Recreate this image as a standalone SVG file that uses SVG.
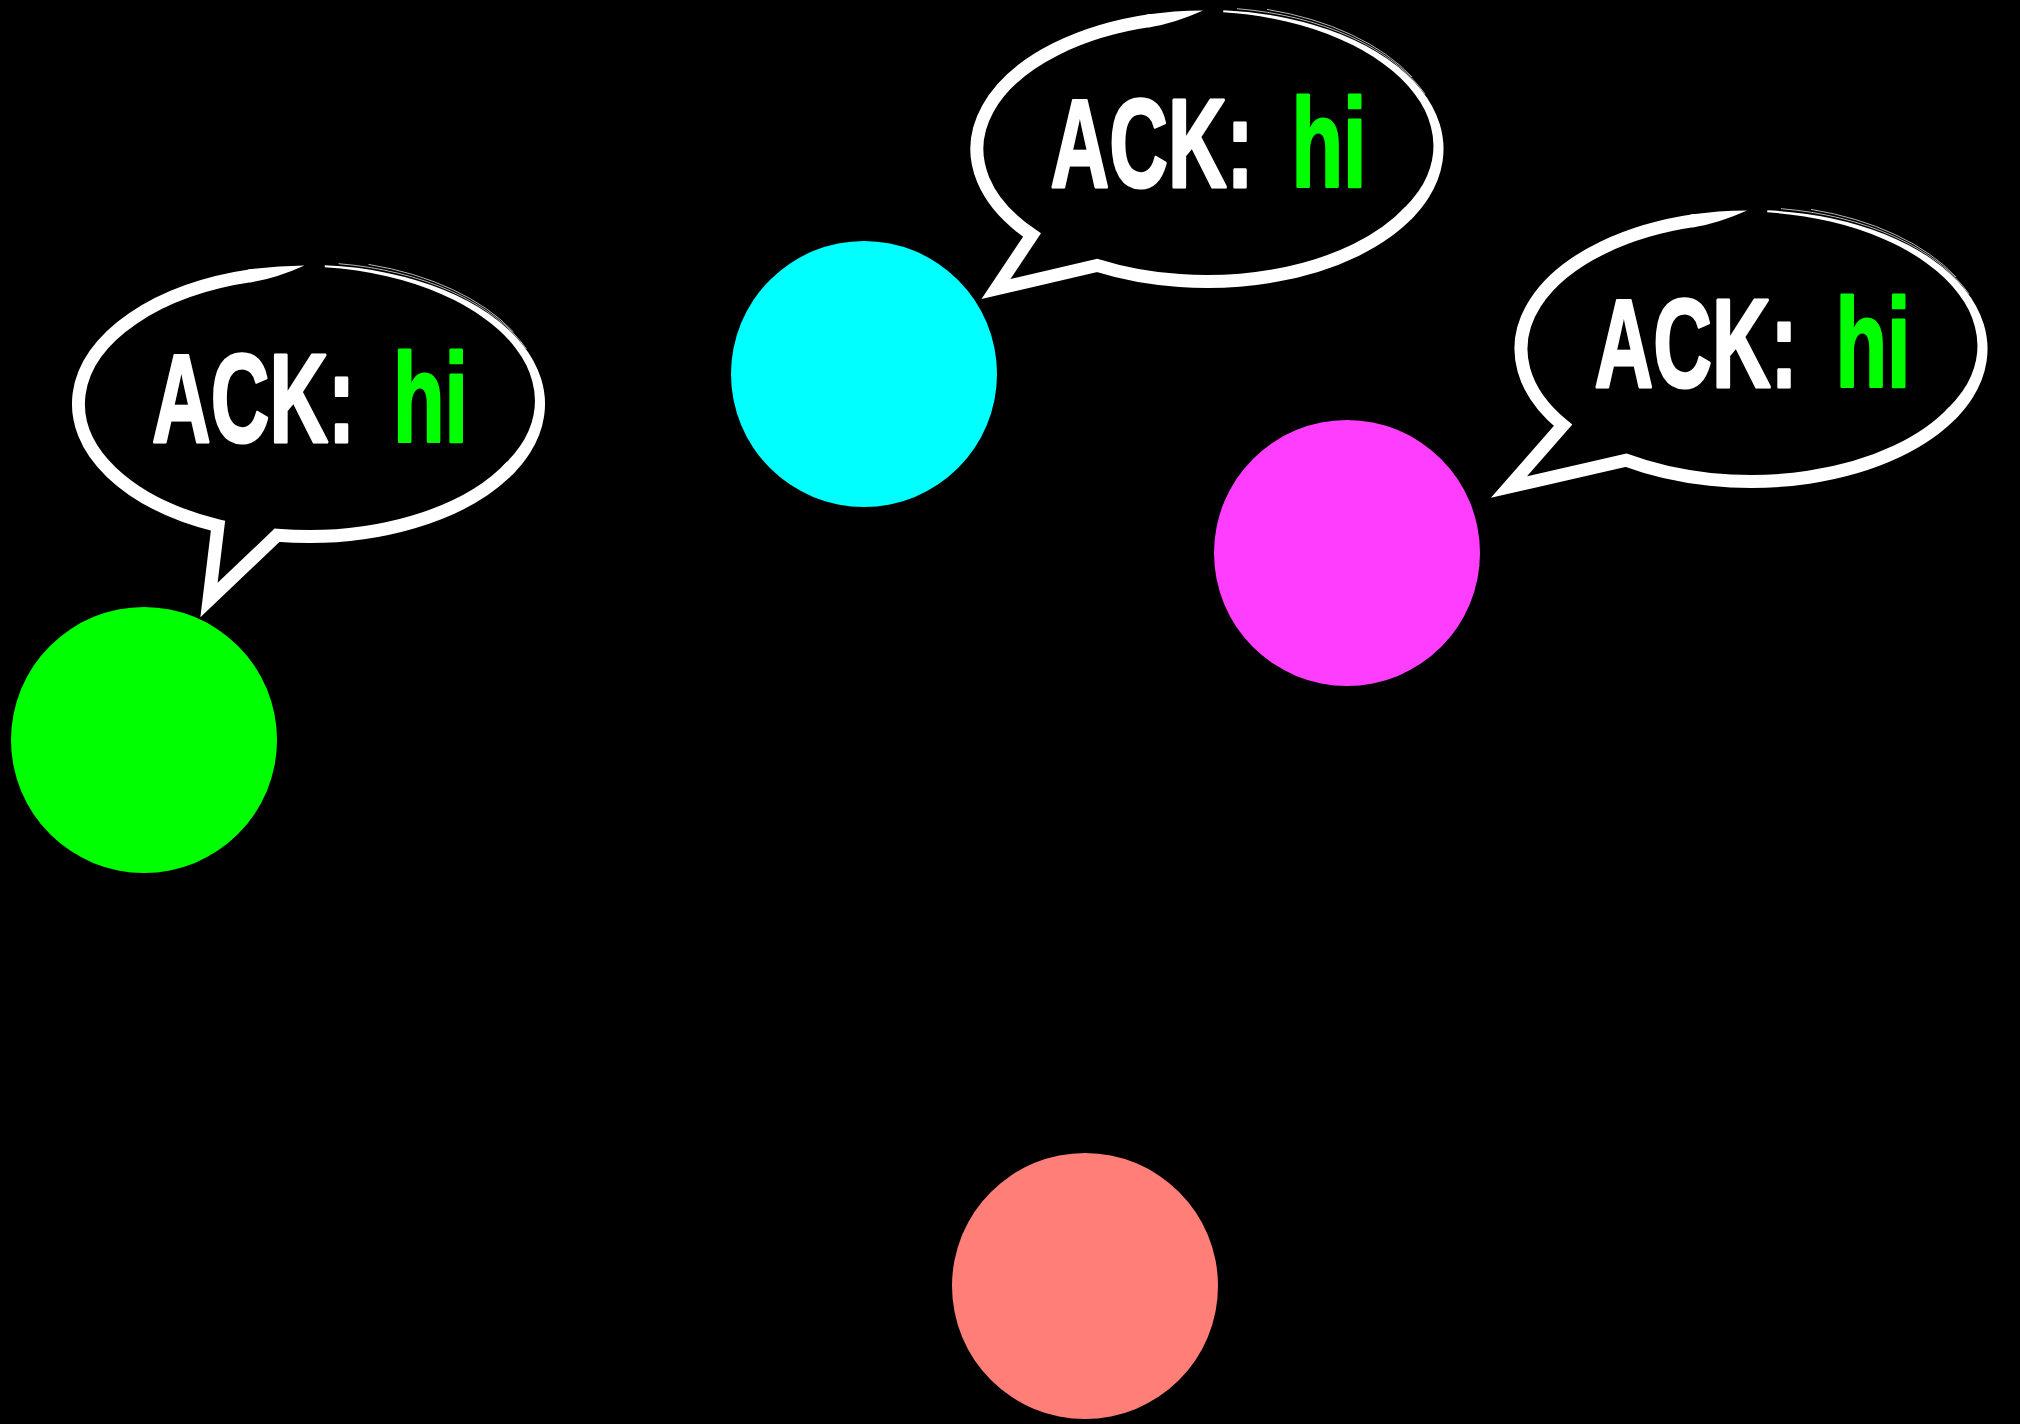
<svg xmlns="http://www.w3.org/2000/svg" xmlns:xlink="http://www.w3.org/1999/xlink" width="2020" height="1424" viewBox="0 0 2020 1424">
  <style>
    .ln { fill: none; stroke: #ffffff; stroke-linejoin: miter; stroke-miterlimit: 10; }
    .main { stroke-width: 13; }
    .taper { fill: #ffffff; stroke: none; }
    .hair { fill: none; stroke: #ffffff; stroke-width: 1; stroke-opacity: 0.7; }
    .lbl { font-family: "Liberation Sans", Arial, sans-serif; font-weight: bold; font-size: 126px; stroke-width: 3; stroke-linejoin: round; }
    .ack { fill: #ffffff; stroke: #ffffff; }
    .hi { fill: #00ff00; stroke: #00ff00; }
  </style>
  <defs>
    <g id="bubbleTop">
      <!-- tapered stroke right of the gap: thin at the top, full width lower right -->
      <path class="taper" d="M 16.31,-138.67 A 236.5 139 0 0 1 80,-130.87 A 236.5 139 0 0 1 134.36,-114.57 A 236.5 139 0 0 1 179.86,-90.53 A 236.5 139 0 0 1 213.5,-60.09 A 236.5 139 0 0 1 232.72,-24.9 A 236.5 139 0 0 1 235.55,12.53 A 236.5 139 0 0 1 221.63,48.79 A 236.5 139 0 0 1 203.78,70.85 L 194.6,61.65 A 223.5 126 0 0 0 211.44,42.36 A 223.5 126 0 0 0 225.04,10.93 A 223.5 126 0 0 0 223.91,-22.21 A 223.5 126 0 0 0 207.46,-55.19 A 223.5 126 0 0 0 176.26,-85.29 A 223.5 126 0 0 0 132.51,-109.99 A 223.5 126 0 0 0 79.27,-127.43 A 223.5 126 0 0 0 16.23,-136.68 Z"/>
      <!-- tapered end left of the gap -->
      <path class="taper" d="M -60.5,-134.4 A 236.5 139 0 0 1 -4,-138.6 Q -33,-125.5 -58.5,-121.6 Z"/>
      <!-- sketch hairlines -->
      <path class="hair" d="M 30,-140.3 A 238 141 0 0 1 218,-55"/>
      <path class="hair" d="M 60,-139.6 A 237.5 140.5 0 0 1 205,-72"/>
    </g>
  </defs>
  <rect x="0" y="0" width="2020" height="1424" fill="#000000"/>

  <g id="connectors"></g>

  <g id="node-green">
    <circle cx="144" cy="740" r="133" fill="#00ff00"/>
  </g>
  <g id="node-cyan">
    <circle cx="864" cy="374" r="133" fill="#00ffff"/>
  </g>
  <g id="node-magenta">
    <circle cx="1347" cy="553" r="133" fill="#ff3dff"/>
  </g>
  <g id="node-salmon">
    <circle cx="1085" cy="1286" r="133" fill="#ff7f78"/>
  </g>

  <g id="bubble-green" transform="translate(308.5,404)">
    <use xlink:href="#bubbleTop" href="#bubbleTop"/>
    <path class="ln main" d="M 203.07,62.21 A 230 132.5 0 0 1 -31.5,131.25 L -99.5,196 L -90.5,121.8 A 230 132.5 0 0 1 -55.6,-128.6"/>
    <text class="lbl ack" transform="translate(-156.5,38) scale(0.645,1)">ACK:</text>
    <text class="lbl hi" transform="translate(84.5,38) scale(0.67,1)">hi</text>
  </g>

  <g id="bubble-cyan" transform="translate(1207,149)">
    <use xlink:href="#bubbleTop" href="#bubbleTop"/>
    <path class="ln main" d="M 203.07,62.21 A 230 132.5 0 0 1 -110,116.4 L -211,140 L -175,86 A 230 132.5 0 0 1 -55.6,-128.6"/>
    <text class="lbl ack" transform="translate(-156.5,38) scale(0.645,1)">ACK:</text>
    <text class="lbl hi" transform="translate(84.5,38) scale(0.67,1)">hi</text>
  </g>

  <g id="bubble-magenta" transform="translate(1751,349)">
    <use xlink:href="#bubbleTop" href="#bubbleTop"/>
    <path class="ln main" d="M 203.07,62.21 A 230 132.5 0 0 1 -125,111.2 L -242,138 L -188,76.3 A 230 132.5 0 0 1 -55.6,-128.6"/>
    <text class="lbl ack" transform="translate(-156.5,38) scale(0.645,1)">ACK:</text>
    <text class="lbl hi" transform="translate(84.5,38) scale(0.67,1)">hi</text>
  </g>
</svg>
